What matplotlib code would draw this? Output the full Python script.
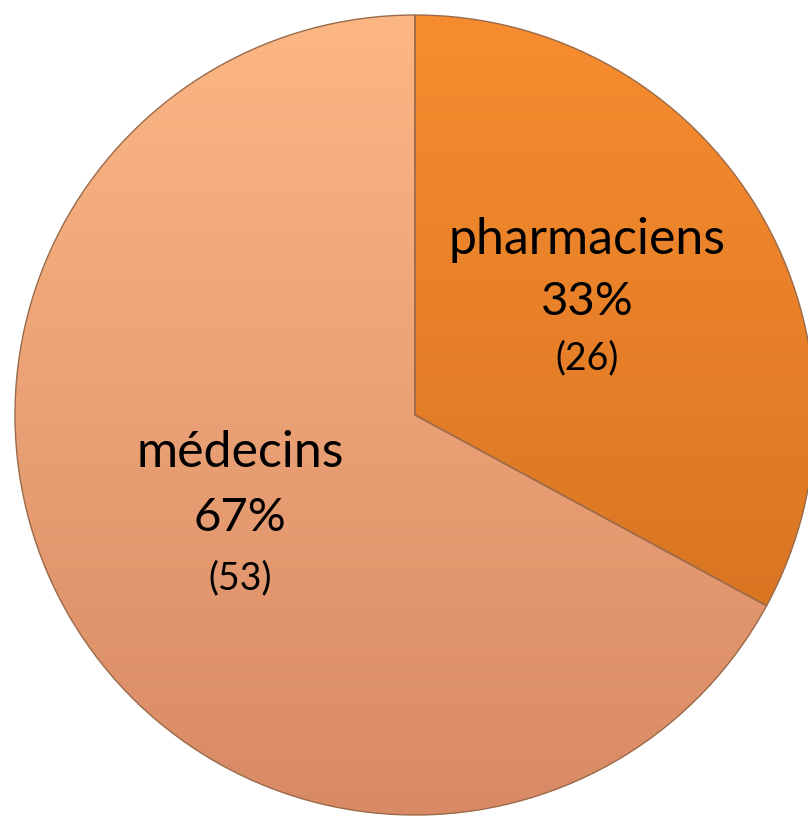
import numpy as np
import matplotlib
matplotlib.use("Agg")
import matplotlib.pyplot as plt
from matplotlib.colors import to_rgb

labels = ["pharmaciens", "médecins"]
counts = [26, 53]
top_colors = ["#F78C2F", "#FCB784"]
bottom_colors = ["#CF6E1E", "#D88A65"]

W, H = 808, 817
fig = plt.figure(figsize=(W / 100, H / 100), dpi=100)
ax = fig.add_axes([0, 0, 1, 1])

cx, cy, r = 415, H - 415, 400
wedges, _ = ax.pie(counts, startangle=90, counterclock=False, center=(cx, cy),
                   radius=r, colors=["none", "none"],
                   wedgeprops=dict(edgecolor="#9a6a4a", linewidth=1.0))
ax.set_xlim(0, W)
ax.set_ylim(0, H)
ax.set_aspect("equal")
ax.axis("off")

n = 256
for w, tc, bc in zip(wedges, top_colors, bottom_colors):
    t = np.linspace(0, 1, n)[:, None]
    c0 = np.array(to_rgb(tc)); c1 = np.array(to_rgb(bc))
    img = (c0[None, None, :] * (1 - t[..., None]) + c1[None, None, :] * t[..., None])
    img = np.repeat(img, 2, axis=1)
    im = ax.imshow(img, extent=(cx - r, cx + r, cy - r, cy + r), origin="upper",
                   aspect="auto", zorder=0.5, interpolation="bilinear")
    im.set_clip_path(w)
    w.set_zorder(1)

total = sum(counts)
font = "Lato"
positions = [(587, 240, 302, 358), (240, 453, 518, 578)]
for lab, cnt, (x, y1, y2, y3) in zip(labels, counts, positions):
    pct = round(100 * cnt / total)
    ax.text(x, H - y1, lab, ha="center", va="center", fontsize=36, family=font, zorder=3)
    ax.text(x, H - y2, f"{pct}%", ha="center", va="center", fontsize=34, family=font, zorder=3)
    ax.text(x, H - y3, f"({cnt})", ha="center", va="center", fontsize=27, family=font, zorder=3)

fig.savefig("out.png", dpi=100)
